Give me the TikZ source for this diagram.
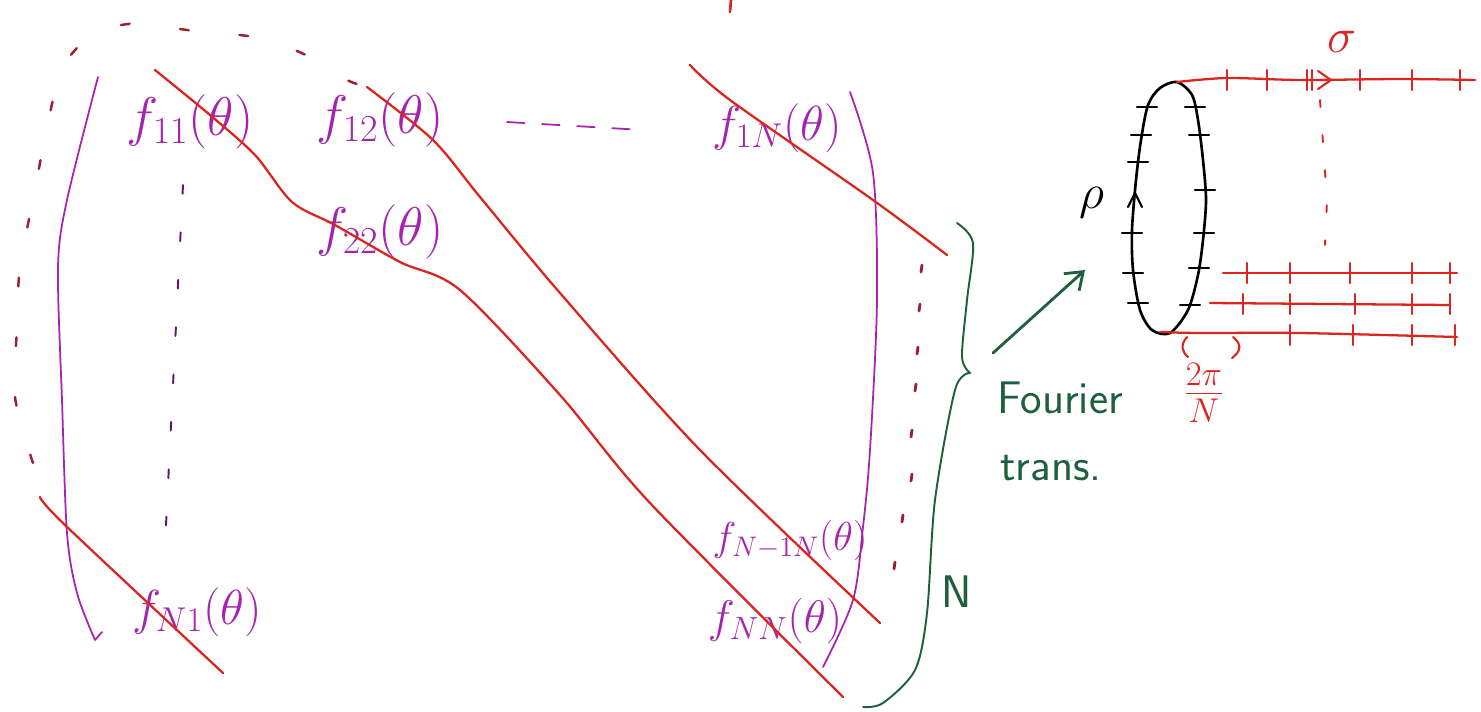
\RequirePackage{fix-cm}
\documentclass[tikz,border=0pt]{standalone}
\usepackage{fontspec}
\usetikzlibrary{arrows.meta}
\definecolor{hred}{RGB}{218,38,30}
\definecolor{hdred}{RGB}{160,30,45}
\definecolor{hpurple}{RGB}{165,35,175}
\definecolor{hgreen}{RGB}{30,95,60}

\begin{document}
\begin{tikzpicture}[x=0.02cm,y=-0.02cm,line cap=round,line join=round,
  ent/.style={text=hpurple,inner sep=0pt,font=\fontsize{31}{34}\selectfont},
  gtext/.style={text=hgreen,inner sep=0pt,font=\fontsize{26}{30}\selectfont\sffamily},
  diag/.style={hred,line width=1.3pt},
  rtick/.style={hred,line width=1.2pt}]
  \useasboundingbox (0,0) rectangle (1481,711);
  % 矩阵元
  \node[ent] (f11) at (190,122) {$f_{11}(\theta)$};
  \node[ent] (f12) at (380,120) {$f_{12}(\theta)$};
  \node[ent,font=\fontsize{28}{32}\selectfont] (f1N) at (777,128) {$f_{1N}(\theta)$};
  \node[ent] (f22) at (380,232) {$f_{22}(\theta)$};
  \node[ent,font=\fontsize{28}{32}\selectfont] (fN1) at (197,612) {$f_{N1}(\theta)$};
  \node[ent,font=\fontsize{23}{26}\selectfont] (fNm) at (790,540) {$f_{N{-}1N}(\theta)$};
  \node[ent,font=\fontsize{26}{30}\selectfont] (fNN) at (775,621) {$f_{NN}(\theta)$};
  % 括号
  \draw[hpurple,line width=1pt] plot[smooth] coordinates {(98,77) (67,200) (58,267) (62,400) (67,533) (77,593) (95,640)} -- (102,632);
  \draw[hpurple,line width=1pt] plot[smooth] coordinates {(850,92) (873,173) (877,300) (870,450) (863,527) (853,600) (823,667)};
  \draw[hpurple!60!black,line width=1.1pt,dash pattern=on 5pt off 22pt] (183,185) -- (165,545);
  \draw[hpurple,line width=1pt,dash pattern=on 10pt off 10pt] (507,122) -- (643,130);
  % 对角线
  \draw[diag] plot[smooth] coordinates {(155,70) (210,115) (255,155) (292,202) (335,225) (400,262) (460,290) (560,395) (650,503) (843,697)};
  \draw[diag] plot[smooth] coordinates {(367,87) (433,140) (480,197) (560,293) (700,450) (880,623)};
  \draw[diag] plot[smooth] coordinates {(690,65) (730,100) (873,200) (947,255)};
  \draw[diag] plot[smooth] coordinates {(40,497) (65,525) (223,673)};
  \draw[hred,line width=1.5pt] (731,0) -- (730,12);
  \draw[hdred,line width=1.4pt,dash pattern=on 5pt off 29pt] plot[smooth] coordinates {(33,463) (15,397) (17,328) (20,267) (35,190) (47,127) (63,67) (95,33) (140,23) (187,30) (260,38) (310,57) (347,80) (370,88)};
  \foreach \x/\y in {922/268,920/307,918/350,916/387,912/433,912/477,903/518,895/565}
    \draw[hdred,line width=1.6pt] (\x,\y-3) -- (\x-1,\y+4);
  % 花括号与箭头
  \draw[hgreen,line width=1.1pt] plot[smooth] coordinates {(957,223) (973,243) (967,300) (962,357) (970,373)}
    -- plot[smooth] coordinates {(970,373) (955,390) (935,500) (927,613) (915,670) (883,703) (863,707)};
  \node[gtext] (bigN) at (957,592) {N};
  \node[gtext,anchor=base west] (four) at (997,413) {Fourier};
  \node[gtext,anchor=base west] (trans) at (1000,480) {trans.};
  \coordinate (ftail) at (993,353);
  \coordinate (fhead) at (1085,270);
  \draw[hgreen,line width=1.6pt,-{Straight Barb[length=9pt,width=13pt]}] (ftail) -- (fhead);
  % 圆环
  \draw[line width=1.5pt] plot[smooth cycle] coordinates {(1177,82) (1192,95) (1198,120) (1203,160) (1206,200) (1203,240) (1198,275) (1188,310) (1170,333) (1152,330) (1140,310) (1133,270) (1132,230) (1136,180) (1141,140) (1148,105) (1160,88)};
  \foreach \x/\y in {1147/107,1141/135,1138/162,1132/233,1133/273,1138/303,1195/107,1199/135,1205/190,1204/233,1199/268,1190/305}
    \draw[line width=1.2pt] (\x-10,\y) -- (\x+10,\y);
  \draw[line width=1.2pt] (1128,207) -- (1135,193) -- (1142,207);
  \node[font=\fontsize{28}{32}\selectfont,inner sep=0pt] (rho) at (1092,203) {$\rho$};
  % 红线
  \draw[hred,line width=1.3pt] plot[smooth] coordinates {(1177,82) (1227,78) (1300,80) (1400,79) (1475,80)};
  \foreach \x in {1227,1267,1307,1312,1360,1412,1460}
    \draw[rtick] (\x,70) -- (\x,90);
  \draw[rtick] (1318,71) -- (1331,80) -- (1318,89);
  \node[text=hred,font=\fontsize{28}{32}\selectfont,inner sep=0pt] (sigma) at (1342,42) {$\sigma$};
  \draw[hred,line width=1.1pt,dash pattern=on 4pt off 16pt] (1320,100) -- (1327,200) -- (1325,245);
  \draw[hred,line width=1.3pt] (1223,273) -- (1457,273);
  \foreach \x in {1247,1290,1350,1412,1450}
    \draw[rtick] (\x,263) -- (\x,283);
  \draw[hred,line width=1.3pt] (1210,303) -- (1450,305);
  \foreach \x in {1243,1290,1355,1412,1450}
    \draw[rtick] (\x,294) -- (\x,314);
  \draw[hred,line width=1.3pt] plot[smooth] coordinates {(1160,332) (1200,333) (1300,333) (1457,337)};
  \foreach \x in {1290,1353,1412,1455}
    \draw[rtick] (\x,325) -- (\x,345);
  \draw[rtick] (1187,337) .. controls (1180,345) and (1182,352) .. (1188,357);
  \draw[rtick] (1233,337) .. controls (1243,345) and (1240,352) .. (1232,358);
  \node[text=hred,font=\fontsize{28}{32}\selectfont,inner sep=0pt] (dtheta) at (1204,393) {$\frac{2\pi}{N}$};
\end{tikzpicture}
\end{document}
